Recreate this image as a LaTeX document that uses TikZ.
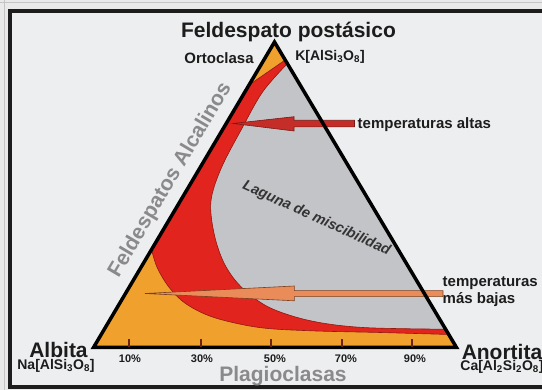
\documentclass[tikz,border=0pt]{standalone}
\usepackage{fontspec}
\setmainfont{Liberation Sans}
\definecolor{outerbg}{HTML}{E9E9EA}
\definecolor{outerln}{HTML}{C4C4C6}
\definecolor{framec}{HTML}{1E1C1C}
\definecolor{innerbg}{HTML}{EDEEF0}
\definecolor{orangec}{HTML}{F0A02D}
\definecolor{redc}{HTML}{E1241E}
\definecolor{reddark}{HTML}{8E1A16}
\definecolor{greyc}{HTML}{C3C4C8}
\definecolor{txt}{HTML}{1C1C1C}
\definecolor{greytxt}{HTML}{8A8A8C}
\definecolor{hotc}{HTML}{C42D28}
\definecolor{hotd}{HTML}{7A1A16}
\definecolor{coolc}{HTML}{E98C5A}
\definecolor{coold}{HTML}{7A4020}
\definecolor{tickc}{HTML}{6A2414}
\begin{document}
\begin{tikzpicture}[x=1pt,y=-1pt,
  big/.style={font=\bfseries\fontsize{21}{22}\selectfont, text=txt, inner sep=0pt},
  mid/.style={font=\bfseries\fontsize{15}{17}\selectfont, text=txt, inner sep=0pt},
  form/.style={font=\bfseries\fontsize{14}{15}\selectfont, text=txt, inner sep=0pt},
  pct/.style={font=\bfseries\fontsize{11}{12}\selectfont, text=txt, inner sep=0pt},
  lagst/.style={font=\bfseries\itshape\fontsize{14.5}{15}\selectfont, text=txt!90, inner sep=0pt},
  tickst/.style={draw=tickc, line width=2pt},
  hotarrow/.style={fill=hotc, draw=hotd, line width=0.6pt, line join=miter},
  coolarrow/.style={fill=coolc, draw=coold, line width=0.6pt, line join=miter}]
\useasboundingbox (0,0) rectangle (542,390);
% outer background and frame
\fill[outerbg] (0,0) rectangle (542,390);
\draw[outerln, line width=1.5pt] (0,2.5) -- (542,2.5);
\draw[outerln, line width=1.5pt] (4.5,0) -- (4.5,390);
\draw[framec, fill=innerbg, line width=4pt] (9.5,11) rectangle (550,387.5);
% triangle corners
\coordinate (T) at (274.5,42);
\coordinate (L) at (93.5,347.5);
\coordinate (R) at (456.5,347.5);
% orange base
\fill[orangec] (T) -- (L) -- (R) -- cycle;
% grey miscibility gap
\fill[greyc] plot[smooth, tension=0.55] coordinates {(445.5,329.2) (363,327.5) (311,320.9) (269.6,307.6) (242,287.7) (224.7,264.4) (214.3,234.6) (210.9,201.4) (221.2,168.2) (242,128.3) (262.7,91.8) (287.4,63.6)} -- cycle;
% red band
\path[fill=redc, draw=reddark, line width=0.6pt]
  (285.2,60) -- (249,85) -- (151.5,249.5)
  -- plot[smooth, tension=0.55] coordinates {(151.5,249.5) (157.3,267.8) (169.4,287.7) (186.7,304.3) (214.3,317.6) (259.2,327.5) (311,330.8) (380.2,332.5) (449,334.5)}
  -- (445.5,329.2)
  -- plot[smooth, tension=0.55] coordinates {(445.5,329.2) (363,327.5) (311,320.9) (269.6,307.6) (242,287.7) (224.7,264.4) (214.3,234.6) (210.9,201.4) (221.2,168.2) (242,128.3) (262.7,91.8) (287.4,63.6)}
  -- cycle;
% labels (needed for arrow ends)
\node[mid, anchor=west] (talt) at (357.5,124.5) {temperaturas altas};
\node[mid, anchor=west, align=left] (tbaj) at (442.5,291.5) {temperaturas\\más bajas};
% arrows
\coordinate (hottip) at (233,123.5);
\coordinate (cooltip) at (145,293.5);
\path[hotarrow] (hottip) -- (294,116.7) -- (294,120.3) -- (354.5,120.3) -- (354.5,126.9) -- (294,126.9) -- (294,131) -- cycle;
\path[coolarrow] (cooltip) -- (294.3,286) -- (294.3,290.6) -- (443,290.6) -- (443,296.6) -- (294.3,296.6) -- (294.3,300.8) -- cycle;
% triangle outline
\draw[black, line width=3.5pt, line join=miter] (T) -- (L) -- (R) -- cycle;
% ticks
\foreach \xx in {129,200.5,271,342,412}{
  \draw[tickst] (\xx,347) -- (\xx,339.5);
}
\node[pct] (p10) at (130,359) {10\%};
\node[pct] (p30) at (202,359) {30\%};
\node[pct] (p50) at (275,359) {50\%};
\node[pct] (p70) at (346,359) {70\%};
\node[pct] (p90) at (415,359) {90\%};
% texts
\node[big] (title) at (288.5,31.5) {Feldespato postásico};
\node[mid] (orto) at (219,58) {Ortoclasa};
\node[form] (kform) at (330,57) {K[AlSi\textsubscript{3}O\textsubscript{8}]};
\node[big] (albita) at (58.5,350) {Albita};
\node[form] (naform) at (56,365.5) {Na[AlSi\textsubscript{3}O\textsubscript{8}]};
\node[big] (anortita) at (502,351.5) {Anortita};
\node[form] (caform) at (502,366.5) {Ca[Al\textsubscript{2}Si\textsubscript{2}O\textsubscript{8}]};
\node[big, text=greytxt] (plag) at (283,376) {Plagioclasas};
\node[big, text=greytxt, rotate=59.4] (alc) at (170.5,180) {Feldespatos Alcalinos};
\node[lagst, rotate=-24.4] (lag) at (316.5,218.5) {Laguna de miscibilidad};
\end{tikzpicture}
\end{document}
